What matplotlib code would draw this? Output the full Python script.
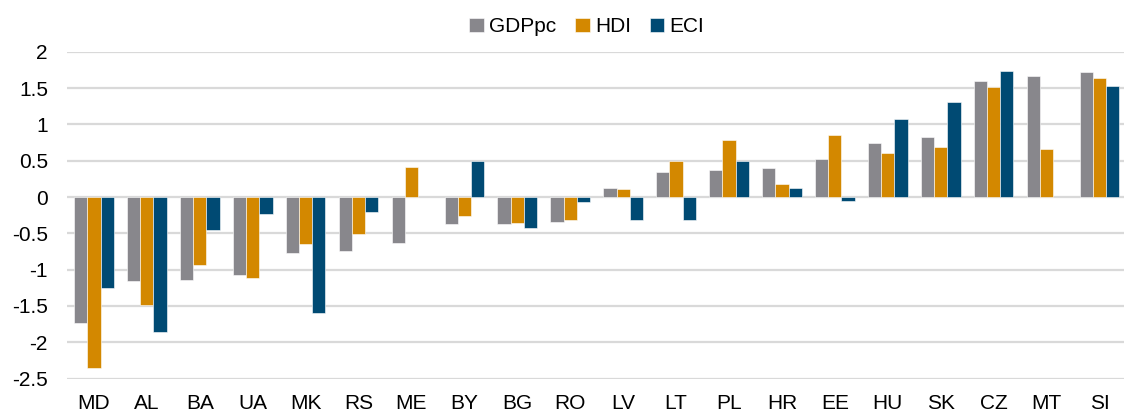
import matplotlib.pyplot as plt
import numpy as np

plt.rcParams['font.family'] = ['Liberation Sans', 'DejaVu Sans']

countries = ['MD', 'AL', 'BA', 'UA', 'MK', 'RS', 'ME', 'BY', 'BG', 'RO',
             'LV', 'LT', 'PL', 'HR', 'EE', 'HU', 'SK', 'CZ', 'MT', 'SI']
gdppc = [-1.73, -1.15, -1.14, -1.08, -0.77, -0.74, -0.63, -0.37, -0.37, -0.35,
         0.12, 0.35, 0.37, 0.40, 0.53, 0.74, 0.82, 1.60, 1.66, 1.72]
hdi = [-2.36, -1.49, -0.94, -1.11, -0.65, -0.51, 0.41, -0.26, -0.36, -0.31,
       0.11, 0.49, 0.79, 0.18, 0.86, 0.61, 0.69, 1.51, 0.66, 1.64]
eci = [-1.25, -1.86, -0.46, -0.24, -1.59, -0.21, np.nan, 0.50, -0.42, -0.07,
       -0.32, -0.32, 0.50, 0.13, -0.06, 1.07, 1.31, 1.73, np.nan, 1.53]

series = [('GDPpc', gdppc, '#88878c'), ('HDI', hdi, '#d38800'), ('ECI', eci, '#004a73')]

fig = plt.figure(figsize=(11.24, 4.12), dpi=100)
ax = fig.add_axes([0.060, 0.081, 0.9417, 0.7935])

x = np.arange(len(countries))
w = 0.25
for k, (name, vals, col) in enumerate(series):
    ax.bar(x + (k - 1) * w, vals, w, color=col, label=name,
           edgecolor='white', linewidth=0.4, zorder=3)

ax.set_xlim(-0.5, len(countries) - 0.5)
ax.set_ylim(-2.5, 2)
ax.set_yticks(np.arange(-2.5, 2.01, 0.5))
ax.set_yticklabels(['-2.5', '-2', '-1.5', '-1', '-0.5', '0', '0.5', '1', '1.5', '2'])
ax.set_xticks(x)
ax.set_xticklabels(countries)
ax.tick_params(axis='y', length=0, pad=14, labelsize=15)
ax.tick_params(axis='x', length=0, pad=11, labelsize=15)
ax.grid(axis='y', color='#d9d9d9', linewidth=1.6, zorder=0)
for s in ax.spines.values():
    s.set_visible(False)

fig.legend(loc='center', bbox_to_anchor=(0.522, 0.935), ncol=3, frameon=False,
           fontsize=15, handlelength=0.7, handleheight=0.7,
           handletextpad=0.25, columnspacing=0.9)

fig.savefig('out.png', dpi=100)
